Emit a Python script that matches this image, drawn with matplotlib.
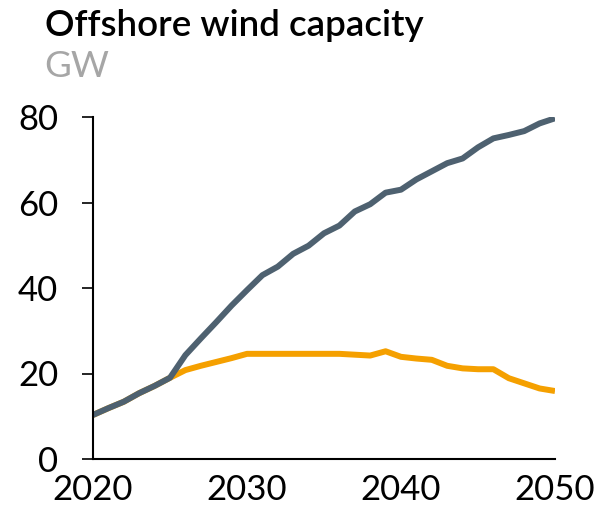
import matplotlib
matplotlib.use("Agg")
import matplotlib.pyplot as plt

plt.rcParams['font.family'] = ['Lato', 'DejaVu Sans']

# Data
years = list(range(2020, 2051))
high = [10.3, 11.9, 13.4, 15.4, 17.1, 19.0, 24.3, 28.2, 32.0, 35.9,
        39.5, 43.0, 45.0, 48.0, 49.9, 52.8, 54.6, 57.9, 59.6, 62.3,
        63.0, 65.4, 67.3, 69.2, 70.3, 72.9, 75.0, 75.8, 76.7, 78.5, 79.7]
low = [10.3, 11.9, 13.4, 15.4, 17.1, 19.0, 20.8, 21.8, 22.7, 23.6,
       24.6, 24.6, 24.6, 24.6, 24.6, 24.6, 24.6, 24.4, 24.2, 25.2,
       23.9, 23.5, 23.2, 21.8, 21.2, 21.0, 21.0, 18.9, 17.7, 16.5, 15.9]
xticks = [2020, 2030, 2040, 2050]
yticks = [0, 20, 40, 60, 80]

fig = plt.figure(figsize=(6.03, 5.07), dpi=100)
ax = fig.add_axes([93/603, 1 - 459/507, (555 - 93)/603, (459 - 117)/507])

ax.plot(years, low, color="#f5a000", lw=4.3, solid_capstyle="butt", solid_joinstyle="round")
ax.plot(years, high, color="#4e6170", lw=4.3, solid_capstyle="butt", solid_joinstyle="round")

ax.set_xlim(2020, 2050)
ax.set_ylim(0, 80)
ax.set_xticks(xticks)
ax.set_yticks(yticks)
ax.tick_params(axis="y", length=8, width=1.2, pad=17, labelsize=25)
ax.tick_params(axis="x", length=0, pad=11, labelsize=25)
for s in ["top", "right"]:
    ax.spines[s].set_visible(False)
for s in ["left", "bottom"]:
    ax.spines[s].set_linewidth(1.5)
ax.set_clip_on(False)

fig.text(45/603, 1 - 9/507, "Offshore wind capacity", fontsize=26.5, fontweight="semibold",
         ha="left", va="top")
fig.text(44/603, 1 - 50/507, "GW", fontsize=26.5, color="#a6a6a6", ha="left", va="top")

fig.savefig("out.png", dpi=100)
